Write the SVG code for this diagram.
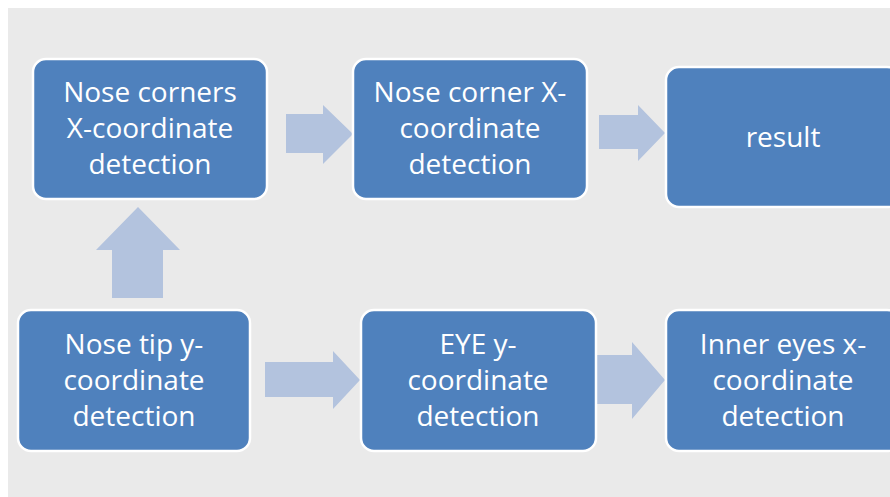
<svg xmlns="http://www.w3.org/2000/svg" width="890" height="497" viewBox="0 0 890 497">
<style>
.box{fill:#4f81bd;stroke:#ffffff;stroke-width:2.5}
.arrow{fill:#b3c3de}
.lbl{font-family:"Open Sans","Liberation Sans",sans-serif;font-size:28px;fill:#ffffff;text-anchor:middle}
</style>
<rect x="0" y="0" width="890" height="497" fill="#ffffff"/>
<rect x="8" y="8" width="882" height="489" fill="#eaeaea"/>
<g id="connectors">
<polygon class="arrow" points="286,114 323,114 323,105 353,134 323,164 323,153 286,153"/>
<polygon class="arrow" points="599,115 638,115 638,105 665,133 638,161 638,149 599,149"/>
<polygon class="arrow" points="265,362 333,362 333,351 360,380 333,409 333,397 265,397"/>
<polygon class="arrow" points="597,355 632,355 632,342 665,380 632,419 632,404 597,404"/>
<polygon class="arrow" points="112,298 112,250 96,250 138,207 180,250 163,250 163,298"/>
</g>
<g id="node-nose-corners">
<rect class="box" x="33" y="59" width="234" height="140" rx="13"/>
<text class="lbl" x="150" y="102">Nose corners</text>
<text class="lbl" x="150" y="138">X-coordinate</text>
<text class="lbl" x="150" y="174">detection</text>
</g>
<g id="node-nose-corner">
<rect class="box" x="353" y="59" width="234" height="140" rx="13"/>
<text class="lbl" x="470" y="102">Nose corner X-</text>
<text class="lbl" x="470" y="138">coordinate</text>
<text class="lbl" x="470" y="174">detection</text>
</g>
<g id="node-result">
<rect class="box" x="666" y="67" width="234" height="140" rx="13"/>
<text class="lbl" x="783" y="147">result</text>
</g>
<g id="node-nose-tip">
<rect class="box" x="18" y="310" width="232" height="141" rx="13"/>
<text class="lbl" x="134" y="354">Nose tip y-</text>
<text class="lbl" x="134" y="390">coordinate</text>
<text class="lbl" x="134" y="426">detection</text>
</g>
<g id="node-eye">
<rect class="box" x="361" y="310" width="235" height="141" rx="13"/>
<text class="lbl" x="478" y="354">EYE y-</text>
<text class="lbl" x="478" y="390">coordinate</text>
<text class="lbl" x="478" y="426">detection</text>
</g>
<g id="node-inner-eyes">
<rect class="box" x="666" y="310" width="234" height="141" rx="13"/>
<text class="lbl" x="783" y="354">Inner eyes x-</text>
<text class="lbl" x="783" y="390">coordinate</text>
<text class="lbl" x="783" y="426">detection</text>
</g>
</svg>
